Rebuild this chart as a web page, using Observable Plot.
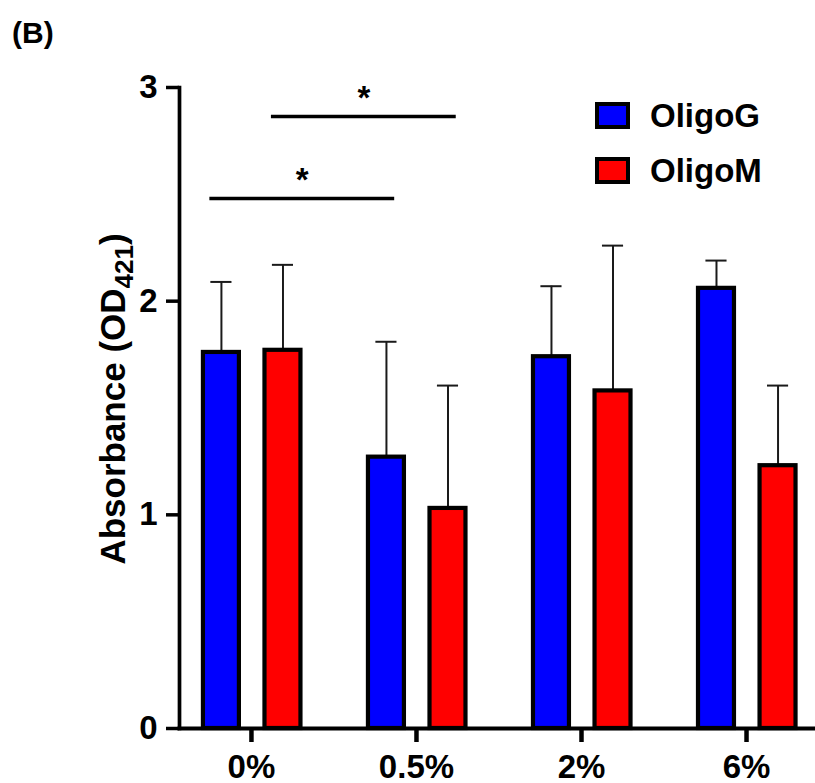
<!DOCTYPE html>
<html>
<head>
<meta charset="utf-8">
<script src="https://cdn.jsdelivr.net/npm/d3@7"></script>
<script src="https://cdn.jsdelivr.net/npm/@observablehq/plot@0.6"></script>
<style>
  body { margin: 0; background: #fff; }
  #chart { position: relative; width: 815px; height: 783px; font-family: "Liberation Sans", Arial, sans-serif; }
  .legend-item { position: absolute; left: 595px; display: flex; align-items: center; height: 27px; }
  .legend-item .swatch { box-sizing: border-box; width: 35px; height: 27px; border: 4px solid #000; }
  .legend-item .name { margin-left: 20px; font-size: 33px; font-weight: bold; color: #000; line-height: 27px; }
</style>
</head>
<body>
<div id="chart"></div>
<script>
// Alginate oligomer concentration groups and the two treatments
const concentrations = ["0%", "0.5%", "2%", "6%"];
const seriesNames = ["OligoG", "OligoM"];
const seriesColors = ["#0000ff", "#ff0000"];

// Mean absorbance and mean + SD (upper error bar end)
const oligoGMean = [1.76, 1.27, 1.74, 2.06];
const oligoGUpper = [2.09, 1.81, 2.07, 2.19];
const oligoMMean = [1.77, 1.03, 1.58, 1.23];
const oligoMUpper = [2.17, 1.605, 2.26, 1.605];

const yTicks = [0, 1, 2, 3];

// Significance brackets: compared groups (concentration index) within one treatment
const bracketSeries = ["OligoG", "OligoM"];
const bracketFrom = [0, 0];
const bracketTo = [1, 1];
const bracketLevel = [2.48, 2.864];
const bracketLabel = ["*", "*"];

// Layout of the grouped bars, in category units
const seriesOffset = {OligoG: -0.182, OligoM: 0.191};
const barHalf = 0.109;
const capHalf = 0.064;
const bracketPadLeft = 0.07;
const bracketPadRight = 0.05;

const means = {OligoG: oligoGMean, OligoM: oligoMMean};
const uppers = {OligoG: oligoGUpper, OligoM: oligoMUpper};

const rows = concentrations.flatMap((c, i) =>
  seriesNames.map(s => ({i, concentration: c, series: s, mean: means[s][i], upper: uppers[s][i]}))
);
const center = d => d.i + seriesOffset[d.series];

const brackets = bracketLabel.map((label, k) => {
  const s = bracketSeries[k];
  const x1 = bracketFrom[k] + seriesOffset[s] - bracketPadLeft;
  const x2 = bracketTo[k] + seriesOffset[s] + bracketPadRight;
  return {x1, x2, mid: (x1 + x2) / 2, y: bracketLevel[k], label};
});

const font = '"Liberation Sans", Arial, sans-serif';

const chart = Plot.plot({
  width: 815,
  height: 783,
  marginTop: 87,
  marginBottom: 55,
  marginLeft: 179,
  marginRight: 0,
  style: {fontFamily: font, fontWeight: "bold", fontSize: "33px", color: "#000", background: "#fff"},
  x: {type: "linear", domain: [-0.436, 3.418]},
  y: {domain: [0, 3]},
  color: {domain: seriesNames, range: seriesColors},
  marks: [
    // error bars (upper half only)
    Plot.ruleX(rows, {x: center, y1: "mean", y2: "upper", stroke: "#1a1a1a", strokeWidth: 2}),
    Plot.ruleY(rows, {y: "upper", x1: d => center(d) - capHalf, x2: d => center(d) + capHalf, stroke: "#1a1a1a", strokeWidth: 2}),
    // bars
    Plot.rect(rows, {
      x1: d => center(d) - barHalf,
      x2: d => center(d) + barHalf,
      y1: 0,
      y2: "mean",
      fill: "series",
      stroke: "#000",
      strokeWidth: 4.2
    }),
    // significance brackets
    Plot.ruleY(brackets, {x1: "x1", x2: "x2", y: "y", stroke: "#000", strokeWidth: 3.5}),
    Plot.text(brackets, {x: "mid", y: "y", text: "label", fontSize: 33, fontWeight: "bold", lineAnchor: "middle", dy: -18}),
    // axes
    Plot.axisY({ticks: yTicks, tickFormat: d => String(d), tickSize: 13, tickPadding: 9, strokeWidth: 3.5, label: null, fontSize: 33, fontWeight: "bold"}),
    Plot.axisX({ticks: [0, 1, 2, 3], tickFormat: i => concentrations[i], tickSize: 14, tickPadding: 12, strokeWidth: 4.5, label: null, fontSize: 33, fontWeight: "bold"}),
    Plot.frame({anchor: "left", stroke: "#000", strokeWidth: 3.7}),
    Plot.frame({anchor: "bottom", stroke: "#000", strokeWidth: 4})
  ]
});

const svg = d3.select(chart);

// y-axis title with subscript
const yTitle = svg.append("text")
  .attr("transform", "translate(125,399) rotate(-90)")
  .attr("text-anchor", "middle")
  .attr("font-family", font)
  .attr("font-weight", "bold")
  .attr("font-size", 35)
  .attr("fill", "#000");
yTitle.append("tspan").text("Absorbance (OD");
yTitle.append("tspan").attr("font-size", 26).attr("dy", 8).text("421");
yTitle.append("tspan").attr("dy", -8).text(")");

// panel label
svg.append("text")
  .attr("x", 12)
  .attr("y", 43)
  .attr("text-anchor", "start")
  .attr("font-family", font)
  .attr("font-weight", "bold")
  .attr("font-size", 30)
  .attr("fill", "#000")
  .text("(B)");

const container = document.getElementById("chart");
container.appendChild(chart);

// legend
const legendTops = [102, 157];
seriesNames.forEach((name, k) => {
  const item = document.createElement("div");
  item.className = "legend-item";
  item.style.top = legendTops[k] + "px";
  const sw = document.createElement("div");
  sw.className = "swatch";
  sw.style.background = seriesColors[k];
  const label = document.createElement("span");
  label.className = "name";
  label.textContent = name;
  item.appendChild(sw);
  item.appendChild(label);
  container.appendChild(item);
});
</script>
</body>
</html>
